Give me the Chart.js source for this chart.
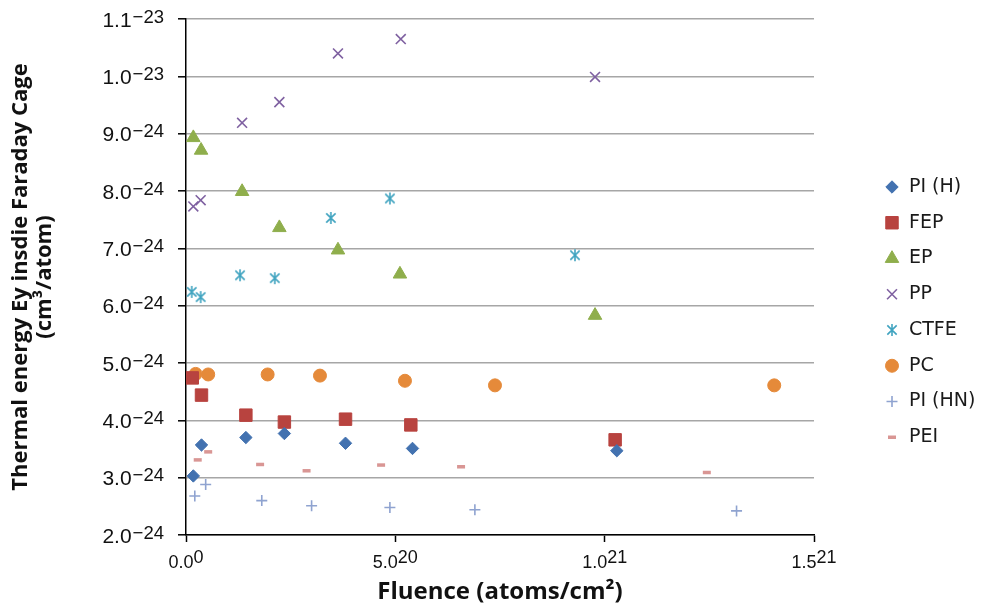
<!DOCTYPE html>
<html>
<head>
<meta charset="utf-8">
<script src="https://cdn.jsdelivr.net/npm/chart.js@4.4.1/dist/chart.umd.min.js"></script>
<style>
  html, body { margin: 0; padding: 0; background: #fff; }
  #wrap { width: 987px; height: 608px; }
</style>
</head>
<body>
<div id="wrap"><canvas id="faradayChart" width="987" height="608"></canvas></div>
<script>
// fluence in units of 1e20 atoms/cm2, energy in units of 1e-24 cm3/atom
const X_UNIT = 1e20;
const Y_UNIT = 1e-24;

const seriesNames = ['PI (H)', 'FEP', 'EP', 'PP', 'CTFE', 'PC', 'PI (HN)', 'PEI'];

const piHFluence = [0.175, 0.37, 1.43, 2.35, 3.81, 5.41, 10.29];
const piHEnergy  = [3.03, 3.57, 3.70, 3.77, 3.60, 3.51, 3.47];

const fepFluence = [0.15, 0.37, 1.43, 2.35, 3.81, 5.37, 10.25];
const fepEnergy  = [4.74, 4.44, 4.09, 3.97, 4.02, 3.92, 3.66];

const epFluence = [0.175, 0.36, 1.34, 2.23, 3.63, 5.11, 9.77];
const epEnergy  = [8.93, 8.71, 7.99, 7.36, 6.97, 6.55, 5.83];

const ppFluence = [0.175, 0.35, 1.34, 2.23, 3.63, 5.13, 9.77];
const ppEnergy  = [7.73, 7.84, 9.19, 9.55, 10.40, 10.65, 9.99];

const ctfeFluence = [0.136, 0.35, 1.29, 2.12, 3.46, 4.87, 9.29];
const ctfeEnergy  = [6.24, 6.15, 6.53, 6.48, 7.53, 7.87, 6.88];

const pcFluence = [0.23, 0.53, 1.95, 3.20, 5.23, 7.38, 14.05];
const pcEnergy  = [4.81, 4.80, 4.80, 4.78, 4.69, 4.61, 4.61];

const piHNFluence = [0.21, 0.47, 1.81, 3.00, 4.87, 6.90, 13.15];
const piHNEnergy  = [2.68, 2.88, 2.60, 2.51, 2.48, 2.44, 2.42];

const peiFluence = [0.28, 0.53, 1.77, 2.88, 4.66, 6.57, 12.44];
const peiEnergy  = [3.31, 3.45, 3.23, 3.12, 3.22, 3.19, 3.09];

const xTicks = [0, 5, 10, 15];
const yTicks = [2, 3, 4, 5, 6, 7, 8, 9, 10, 11];

function pts(xs, ys) {
    return xs.map((x, i) => ({ x: x, y: ys[i] }));
}

// excel style asterisk marker
function asterisk(color, r) {
    const c = document.createElement('canvas');
    const s = Math.ceil(r * 2 + 4);
    c.width = s;
    c.height = s;
    const g = c.getContext('2d');
    g.strokeStyle = color;
    g.lineWidth = 1.6;
    const m = s / 2;
    const d = r * 0.78;
    g.beginPath();
    g.moveTo(m, m - r); g.lineTo(m, m + r);
    g.moveTo(m - d, m - d); g.lineTo(m + d, m + d);
    g.moveTo(m - d, m + d); g.lineTo(m + d, m - d);
    g.stroke();
    return c;
}

function serie(label, xs, ys, color, style, radius, bw) {
    return {
        label: label,
        data: pts(xs, ys),
        pointStyle: style,
        pointRadius: radius,
        pointBackgroundColor: color,
        pointBorderColor: color,
        pointBorderWidth: bw,
        backgroundColor: color,
        borderColor: color
    };
}

const datasets = [
    serie(seriesNames[0], piHFluence, piHEnergy, '#4372b0', 'rectRot', 6.2, 1),
    serie(seriesNames[1], fepFluence, fepEnergy, '#b8433f', 'rect', 8.8, 1),
    serie(seriesNames[2], epFluence, epEnergy, '#8fae4c', 'triangle', 7.8, 1),
    serie(seriesNames[3], ppFluence, ppEnergy, '#7f61a1', 'crossRot', 7, 1.6),
    serie(seriesNames[4], ctfeFluence, ctfeEnergy, '#41a4c0', asterisk('#41a4c0', 6), 6, 1.6),
    serie(seriesNames[5], pcFluence, pcEnergy, '#e58a3a', 'circle', 6.5, 1),
    serie(seriesNames[6], piHNFluence, piHNEnergy, '#8fa3d0', 'cross', 5.5, 1.6),
    serie(seriesNames[7], peiFluence, peiEnergy, '#d99694', 'line', 4, 3.5)
];

function splitSci(v) {
    if (v === 0) return ['0.0', '0'];
    const e = Math.floor(Math.log10(Math.abs(v)) + 1e-9);
    const m = v / Math.pow(10, e);
    return [m.toFixed(1), (e < 0 ? '\u2212' : '') + Math.abs(e)];
}

// tick labels like 5.0^20, with the exponent raised
const sciTicks = {
    id: 'sciTicks',
    afterDraw(chart) {
        const ctx = chart.ctx;
        const x = chart.scales.x;
        const y = chart.scales.y;
        ctx.save();
        ctx.fillStyle = '#111';
        ctx.textBaseline = 'alphabetic';
        ctx.textAlign = 'left';
        y.ticks.forEach(t => {
            const parts = splitSci(t.value * Y_UNIT);
            const py = y.getPixelForValue(t.value);
            ctx.font = '18.5px "Liberation Sans"';
            const ew = ctx.measureText(parts[1]).width;
            ctx.font = '21px "Liberation Sans"';
            const mw = ctx.measureText(parts[0]).width;
            const right = y.right - 22;
            ctx.fillText(parts[0], right - ew - mw - 1, py + 7.5);
            ctx.font = '18.5px "Liberation Sans"';
            ctx.fillText(parts[1], right - ew, py + 3.5);
        });
        x.ticks.forEach(t => {
            const parts = splitSci(t.value * X_UNIT);
            const px = x.getPixelForValue(t.value);
            ctx.font = '18px "Liberation Sans"';
            const mw = ctx.measureText(parts[0]).width;
            const ew = ctx.measureText(parts[1]).width;
            const left = px - (mw + ew) / 2;
            ctx.fillText(parts[0], left, x.top + 33);
            ctx.fillText(parts[1], left + mw, x.top + 28);
        });
        ctx.restore();
    }
};

// legend on the right, drawn with the same point styles
const sideLegend = {
    id: 'sideLegend',
    afterDraw(chart) {
        const ctx = chart.ctx;
        const h = Chart.helpers;
        ctx.save();
        chart.data.datasets.forEach((ds, i) => {
            const cy = 187 + i * 35.75;
            ctx.fillStyle = ds.pointBackgroundColor;
            ctx.strokeStyle = ds.pointBorderColor;
            ctx.lineWidth = ds.pointBorderWidth;
            h.drawPoint(ctx, {
                pointStyle: ds.pointStyle,
                radius: ds.pointRadius,
                rotation: 0,
                borderWidth: ds.pointBorderWidth
            }, 892, cy);
            ctx.fillStyle = '#1a1a1a';
            ctx.font = '19px "DejaVu Sans"';
            ctx.textAlign = 'left';
            ctx.textBaseline = 'middle';
            ctx.fillText(ds.label, 909, cy);
        });
        ctx.restore();
    }
};

const ctx = document.getElementById('faradayChart').getContext('2d');
new Chart(ctx, {
    type: 'scatter',
    data: { datasets: datasets },
    options: {
        responsive: false,
        animation: false,
        events: [],
        layout: { padding: { top: 19, right: 173, left: 0, bottom: 0 } },
        plugins: {
            legend: { display: false },
            tooltip: { enabled: false }
        },
        scales: {
            x: {
                type: 'linear',
                min: xTicks[0],
                max: xTicks[xTicks.length - 1],
                afterBuildTicks: s => { s.ticks = xTicks.map(v => ({ value: v })); },
                ticks: { display: false },
                grid: { drawOnChartArea: false, tickColor: '#000', tickLength: 7, tickWidth: 1.5 },
                border: { color: '#000', width: 1.5 },
                title: {
                    display: true,
                    text: 'Fluence (atoms/cm\u00b2)',
                    font: { family: 'Open Sans', size: 24, weight: 'bold', lineHeight: 1.1 },
                    color: '#111',
                    padding: { top: 0, bottom: 3 }
                },
                afterFit: s => { s.height = 73; }
            },
            y: {
                type: 'linear',
                min: yTicks[0],
                max: yTicks[yTicks.length - 1],
                afterBuildTicks: s => { s.ticks = yTicks.map(v => ({ value: v })); },
                ticks: { display: false },
                grid: { color: '#a6a6a6', lineWidth: 1.6, tickColor: '#000', tickLength: 8, tickWidth: 1.5 },
                border: { color: '#000', width: 1.5 },
                title: {
                    display: true,
                    text: ['Thermal energy Ey insdie Faraday Cage', '(cm\u00b3/atom)'],
                    font: { family: 'Open Sans', size: 22, weight: 'bold', lineHeight: 1.12 },
                    color: '#111',
                    padding: { top: 8, bottom: 0 }
                },
                afterFit: s => { s.width = 186; }
            }
        }
    },
    plugins: [sciTicks, sideLegend]
});
</script>
</body>
</html>
